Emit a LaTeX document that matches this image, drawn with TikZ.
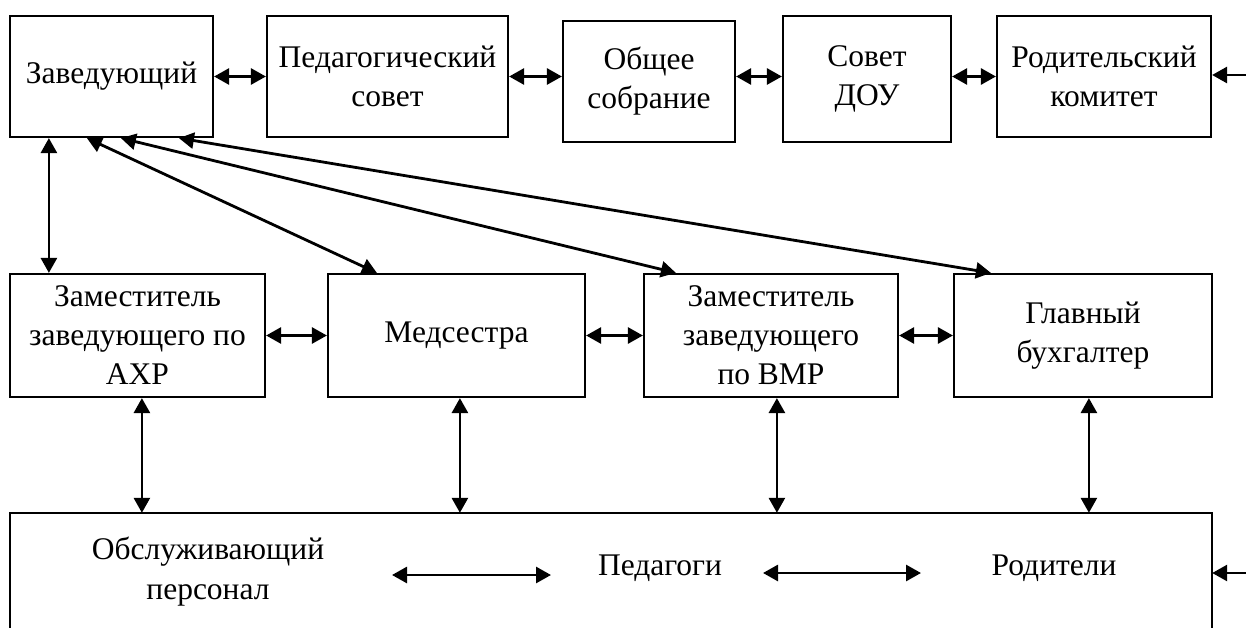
\documentclass[tikz,border=0pt]{standalone}
\usepackage{fontspec}
\setmainfont{Liberation Serif}
\usetikzlibrary{arrows.meta,calc}
\tikzset{
  box/.style={draw, line width=2.2pt, align=center, inner sep=0pt,
    font=\fontsize{31.5}{39}\selectfont},
  txt/.style={align=center, inner sep=0pt, font=\fontsize{31.5}{40}\selectfont},
  conn/.style={line width=2.8pt, {Triangle[length=15pt,width=16pt]}-{Triangle[length=15pt,width=16pt]}},
  oneway/.style={line width=2.8pt, -{Triangle[length=15pt,width=16pt]}}
}
\begin{document}
\begin{tikzpicture}[x=1pt,y=-1pt]
\fill[white] (0,0) rectangle (1246,628);
\useasboundingbox (0,0) rectangle (1246,628);
% top row
\node[box, minimum width=203pt, minimum height=121pt] (zav) at (111.5,76.5) {Заведующий};
\node[box, minimum width=241pt, minimum height=121pt] (ped) at (387.5,76.5) {Педагогический\\совет};
\node[box, minimum width=172pt, minimum height=121pt] (obs) at (649,81.5) {Общее\\собрание};
\node[box, minimum width=168pt, minimum height=126pt] (sov) at (867,79) {Совет\\ДОУ};
\node[box, minimum width=214pt, minimum height=121pt] (rod) at (1104,76.5) {Родительский\\комитет};
% middle row
\node[box, minimum width=255pt, minimum height=123pt] (axr) at (137.5,335.5) {Заместитель\\заведующего по\\АХР};
\node[box, minimum width=257pt, minimum height=123pt] (med) at (456.5,335.5) {Медсестра};
\node[box, minimum width=254pt, minimum height=123pt] (vmp) at (771,335.5) {Заместитель\\заведующего\\по ВМР};
\node[box, minimum width=258pt, minimum height=123pt] (bux) at (1083,335.5) {Главный\\бухгалтер};
% bottom box
\node[minimum width=1202pt, minimum height=115pt, inner sep=0pt] (bot) at (611,570.5) {};
\draw[line width=2.2pt] (bot.south west) -- (bot.north west) -- (bot.north east) -- (bot.south east);
\node[txt] (obsl) at (208,572) {Обслуживающий\\персонал};
\node[txt] (pedg) at (660,568) {Педагоги};
\node[txt] (rodt) at (1054,568) {Родители};
% top horizontal arrows
\draw[conn] (zav.east) -- (zav.east -| ped.west);
\draw[conn] (ped.east) -- (ped.east -| obs.west);
\draw[conn] (obs.east |- ped.east) -- (ped.east -| sov.west);
\draw[conn] (sov.east |- ped.east) -- (ped.east -| rod.west);
\coordinate (in1) at (1246,75);
\draw[oneway] (in1) -- (in1 -| rod.east);
% middle horizontal arrows
\draw[conn] (axr.east) -- (med.west);
\draw[conn] (med.east) -- (vmp.west);
\draw[conn] (vmp.east) -- (bux.west);
% from Zaveduyushchiy
\coordinate (z1) at ([xshift=40pt]zav.south west);
\draw[conn] (z1) -- (z1 |- axr.north);
\draw[conn] ([xshift=78pt]zav.south west) -- ([xshift=50pt]med.north west);
\draw[conn] ([xshift=112pt]zav.south west) -- ([xshift=33pt]vmp.north west);
\draw[conn] ([xshift=170pt]zav.south west) -- ([xshift=38pt]bux.north west);
% middle to bottom
\coordinate (v1) at ([xshift=133pt]axr.south west);
\coordinate (v2) at ([xshift=133pt]med.south west);
\coordinate (v3) at ([xshift=134pt]vmp.south west);
\coordinate (v4) at ([xshift=136pt]bux.south west);
\draw[conn] (v1) -- (v1 |- bot.north);
\draw[conn] (v2) -- (v2 |- bot.north);
\draw[conn] (v3) -- (v3 |- bot.north);
\draw[conn] (v4) -- (v4 |- bot.north);
% bottom arrows
\coordinate (b1) at (392,575);
\coordinate (b2) at (551,575);
\coordinate (b3) at (763,573);
\coordinate (b4) at (921,573);
\draw[conn] (b1) -- (b2);
\draw[conn] (b3) -- (b4);
\coordinate (in2) at (1246,573);
\draw[oneway] (in2) -- (in2 -| bot.east);
\end{tikzpicture}
\end{document}
